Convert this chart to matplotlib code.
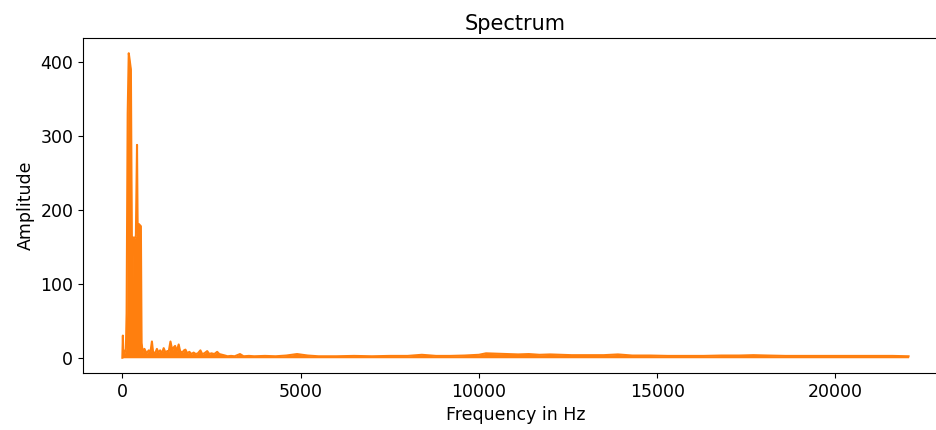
import matplotlib.pyplot as plt

# Envelope of the spectrum (Hz, amplitude)
freq_hz = [0, 15, 30, 60, 100, 120, 150, 180, 200, 240, 262, 285, 300, 330, 380,
           412, 430, 460, 520, 540, 570, 620, 680, 740, 790, 830, 860, 920, 970,
           1010, 1060, 1110, 1160, 1210, 1260, 1300, 1350, 1400, 1440, 1480, 1530,
           1580, 1620, 1680, 1730, 1770, 1820, 1880, 1940, 2000, 2060, 2120, 2190,
           2240, 2300, 2380, 2440, 2500, 2580, 2660, 2720, 2800, 2880, 2950, 3050,
           3150, 3300, 3400, 3550, 3700, 4000, 4300, 4600, 4900, 5200, 5500, 6000,
           6500, 7000, 7500, 8000, 8400, 8800, 9200, 9600, 10000, 10200, 10500,
           10800, 11100, 11400, 11700, 12000, 12300, 12600, 13000, 13500, 13900,
           14300, 14800, 15300, 15800, 16300, 16800, 17300, 17700, 18100, 18600,
           19100, 19600, 20100, 20600, 21100, 21600, 22050]
amplitude = [0, 30, 4, 6, 12, 60, 330, 412, 405, 390, 200, 5, 163, 160, 165,
             288, 170, 181, 178, 20, 8, 12, 6, 10, 8, 22, 8, 6, 12,
             7, 10, 6, 13, 7, 9, 8, 22, 10, 14, 16, 9,
             18, 9, 7, 10, 11, 6, 8, 5, 7, 5, 6, 10,
             5, 6, 9, 5, 6, 5, 8, 5, 4, 3, 2, 2.5,
             2, 5, 2, 2.5, 2, 2.5, 2, 3, 5, 3, 2, 2,
             2.5, 2, 2.5, 2.5, 4, 2.5, 2.5, 3, 4, 6, 5.5,
             5, 4.5, 5, 4, 4.5, 4, 3.5, 3.5, 3.5, 4.5,
             3, 3, 2.5, 2.5, 2.5, 3, 3, 3.5, 3, 2.5,
             2.5, 2.5, 2.5, 2.5, 2.5, 2.5, 2]

plt.rcParams['font.size'] = 12.5

fig = plt.figure(figsize=(9.37, 4.30), dpi=100)
# axes run past the right edge, as in the cropped original
ax = fig.add_axes([0.0886, 0.1326, 0.923, 0.779])
ax.fill_between(freq_hz, 0, amplitude, color='tab:orange', linewidth=0)
ax.plot(freq_hz, amplitude, color='tab:orange', linewidth=1.5)
ax.spines['right'].set_visible(False)
ax.set_title('Spectrum', fontsize=15)
ax.set_xlabel('Frequency in Hz')
ax.set_ylabel('Amplitude')

fig.savefig('out.png', dpi=100)
